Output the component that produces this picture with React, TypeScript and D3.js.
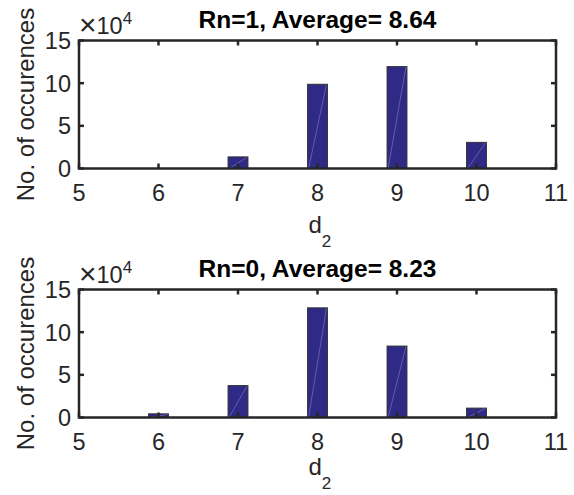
import React from "react";
import * as d3 from "d3";

const categories = [5, 6, 7, 8, 9, 10, 11];
const panelTitles = ["Rn=1, Average= 8.64", "Rn=0, Average= 8.23"];
const binsRn1 = [6, 7, 8, 9, 10];
const countsRn1 = [0, 1.36, 9.87, 11.94, 3.06];
const binsRn0 = [6, 7, 8, 9, 10];
const countsRn0 = [0.43, 3.74, 12.85, 8.37, 1.1];
const yTicks = [0, 5, 10, 15];
const yLabel = "No. of occurences";

const W = 574;
const H = 495;
const FONT = "'Liberation Sans', Arial, Helvetica, sans-serif";
const AX = "#262626";
const BAR = "#2f2a86";

type PanelProps = { top: number; bottom: number; title: string; bins: number[]; counts: number[]; xlabY: number };

function Panel({ top, bottom, title, bins, counts, xlabY }: PanelProps) {
  const x = d3.scaleLinear().domain([5, 11]).range([79, 556]);
  const y = d3.scaleLinear().domain([0, 15]).range([bottom, top]);
  const bw = x(5.125) - x(4.875);
  const tl = 5;
  const cx = (x(5) + x(11)) / 2;
  const cy = (top + bottom) / 2;
  return (
    <g>
      {bins.map((b, i) => {
        const v = counts[i];
        const x0 = x(b) - bw / 2;
        const y0 = y(v);
        const h = y(0) - y0;
        if (h <= 0.01) return null;
        return (
          <g key={b}>
            <rect x={x0} y={y0} width={bw} height={h} fill={BAR} stroke="#333" strokeWidth={1} />
            <line x1={x0 + 1} y1={y(0)} x2={x0 + bw - 1} y2={y0 + 0.5} stroke="#8a87c4" strokeWidth={0.7} opacity={0.8} />
          </g>
        );
      })}
      <rect x={x(5)} y={top} width={x(11) - x(5)} height={bottom - top} fill="none" stroke={AX} strokeWidth={2.5} />
      {categories.map((c) => (
        <g key={"xt" + c}>
          <line x1={x(c)} x2={x(c)} y1={bottom} y2={bottom - tl} stroke={AX} strokeWidth={2.5} />
          <line x1={x(c)} x2={x(c)} y1={top} y2={top + tl} stroke={AX} strokeWidth={2.5} />
          <text x={x(c)} y={bottom + 32} textAnchor="middle" fontSize={23.5} fill={AX} fontFamily={FONT}>
            {c}
          </text>
        </g>
      ))}
      {yTicks.map((t) => (
        <g key={"yt" + t}>
          <line x1={x(5)} x2={x(5) + tl} y1={y(t)} y2={y(t)} stroke={AX} strokeWidth={2.5} />
          <line x1={x(11)} x2={x(11) - tl} y1={y(t)} y2={y(t)} stroke={AX} strokeWidth={2.5} />
          <text x={71} y={y(t) + 8.5} textAnchor="end" fontSize={23.5} fill={AX} fontFamily={FONT}>
            {t}
          </text>
        </g>
      ))}
      <text x={79} y={top - 7} fontSize={23.5} fill={AX} fontFamily={FONT}>
        <tspan fontSize={30} dy={1}>×</tspan>
        <tspan dy={-1}>10</tspan>
        <tspan dy={-10} fontSize={17}>4</tspan>
      </text>
      <text x={cx} y={top - 13} textAnchor="middle" fontSize={24.5} fontWeight="bold" fill="#000" fontFamily={FONT}>
        {title}
      </text>
      <text x={cx - 9} y={xlabY} fontSize={24} fill={AX} fontFamily={FONT}>
        d
        <tspan fontSize={17} dy={14}>2</tspan>
      </text>
      <text transform={`translate(34,${cy}) rotate(-90)`} textAnchor="middle" fontSize={24} fill={AX} fontFamily={FONT}>
        {yLabel}
      </text>
    </g>
  );
}

export default function App() {
  return (
    <svg width={W} height={H} style={{ position: "absolute", left: 0, top: 0, background: "#fff" }}>
      <rect width={W} height={H} fill="#fff" />
      <Panel top={40.5} bottom={168.5} title={panelTitles[0]} bins={binsRn1} counts={countsRn1} xlabY={233} />
      <Panel top={289.5} bottom={417.5} title={panelTitles[1]} bins={binsRn0} counts={countsRn0} xlabY={475} />
    </svg>
  );
}
